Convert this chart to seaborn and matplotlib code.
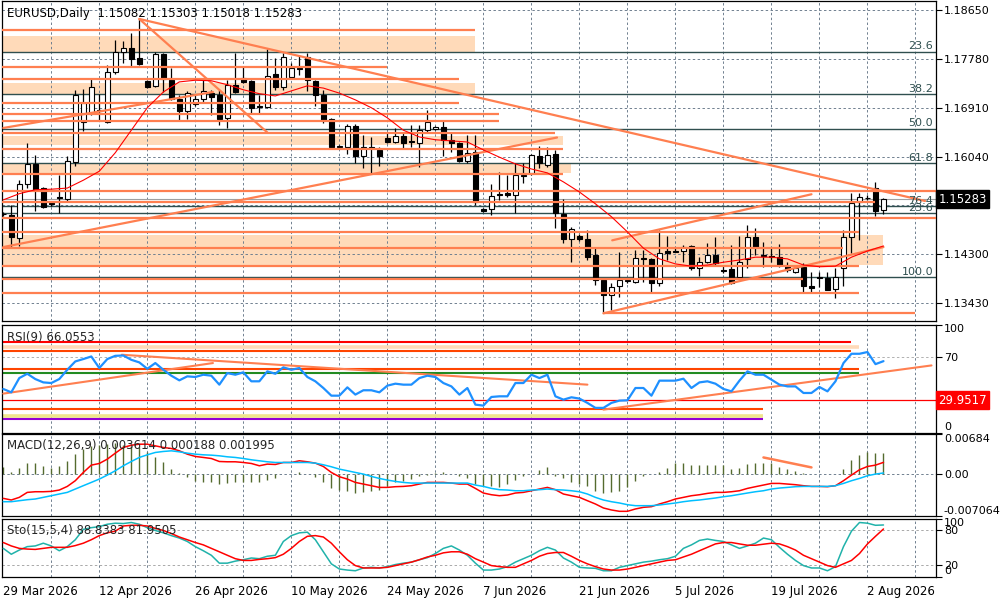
import numpy as np
import matplotlib
matplotlib.use("Agg")
import matplotlib.pyplot as plt
import matplotlib.transforms as mtrans
import seaborn as sns

sns.set_style("white")
plt.rcParams['font.family'] = ['DejaVu Sans']
plt.rcParams['font.size'] = 8

# ---------- daily candles ----------
opens = [1.1502, 1.1500, 1.1459, 1.1555, 1.1591, 1.1548, 1.1521, 1.1532, 1.1529, 1.1595,
         1.1666, 1.1682, 1.1687, 1.1666, 1.1755, 1.1790, 1.1797, 1.1780, 1.1739, 1.1730,
         1.1787, 1.1741, 1.1707, 1.1685, 1.1698, 1.1707, 1.1717, 1.1714, 1.1673, 1.1732,
         1.1744, 1.1739, 1.1694, 1.1692, 1.1751, 1.1728, 1.1746, 1.1762, 1.1781, 1.1739,
         1.1714, 1.1671, 1.1621, 1.1621, 1.1659, 1.1605, 1.1621, 1.1616, 1.1637, 1.1630,
         1.1641, 1.1632, 1.1628, 1.1651, 1.1653, 1.1657, 1.1634, 1.1628, 1.1596, 1.1612,
         1.1511, 1.1511, 1.1537, 1.1539, 1.1536, 1.1571, 1.1575, 1.1605, 1.1589, 1.1609,
         1.1502, 1.1457, 1.1463, 1.1457, 1.1429, 1.1384, 1.1358, 1.1374, 1.1383, 1.1381,
         1.1424, 1.1422, 1.1379, 1.1436, 1.1436, 1.1436, 1.1445, 1.1406, 1.1416, 1.1429,
         1.1402, 1.1404, 1.1390, 1.1422, 1.1461, 1.1429, 1.1427, 1.1425, 1.1409, 1.1399,
         1.1408, 1.1374, 1.1390, 1.1388, 1.1368, 1.1406, 1.1461, 1.1524, 1.1531, 1.1548,
         1.15082]
highs = [1.1505, 1.1518, 1.1562, 1.1628, 1.1607, 1.1550, 1.1524, 1.1571, 1.1605, 1.1723,
         1.1724, 1.1742, 1.1715, 1.1767, 1.1812, 1.1810, 1.1824, 1.1849, 1.1741, 1.1790,
         1.1788, 1.1762, 1.1714, 1.1721, 1.1714, 1.1741, 1.1723, 1.1723, 1.1741, 1.1788,
         1.1764, 1.1741, 1.1714, 1.1796, 1.1780, 1.1788, 1.1771, 1.1785, 1.1788, 1.1741,
         1.1723, 1.1673, 1.1625, 1.1662, 1.1662, 1.1642, 1.1639, 1.1621, 1.1648, 1.1655,
         1.1646, 1.1660, 1.1660, 1.1687, 1.1659, 1.1667, 1.1646, 1.1630, 1.1642, 1.1642,
         1.1513, 1.1555, 1.1577, 1.1571, 1.1593, 1.1593, 1.1609, 1.1623, 1.1621, 1.1616,
         1.1529, 1.1479, 1.1466, 1.1473, 1.1441, 1.1385, 1.1379, 1.1434, 1.1386, 1.1438,
         1.1438, 1.1423, 1.1473, 1.1463, 1.1443, 1.1447, 1.1447, 1.1425, 1.1450, 1.1461,
         1.1411, 1.1447, 1.1463, 1.1482, 1.1477, 1.1452, 1.1441, 1.1448, 1.1416, 1.1411,
         1.1415, 1.1399, 1.1399, 1.1399, 1.1406, 1.1473, 1.1539, 1.1539, 1.1535, 1.1559,
         1.15303]
lows = [1.1498, 1.1443, 1.1445, 1.1548, 1.1507, 1.1513, 1.1516, 1.1504, 1.1523, 1.1587,
        1.1650, 1.1678, 1.1669, 1.1664, 1.1751, 1.1771, 1.1765, 1.1767, 1.1726, 1.1728,
        1.1719, 1.1705, 1.1669, 1.1671, 1.1694, 1.1701, 1.1678, 1.1660, 1.1655, 1.1717,
        1.1735, 1.1682, 1.1682, 1.1691, 1.1723, 1.1723, 1.1745, 1.1749, 1.1721, 1.1694,
        1.1664, 1.1619, 1.1619, 1.1609, 1.1593, 1.1584, 1.1575, 1.1587, 1.1628, 1.1628,
        1.1619, 1.1621, 1.1586, 1.1648, 1.1651, 1.1605, 1.1612, 1.1595, 1.1593, 1.1518,
        1.1505, 1.1500, 1.1527, 1.1532, 1.1504, 1.1557, 1.1571, 1.1584, 1.1586, 1.1477,
        1.1450, 1.1416, 1.1454, 1.1420, 1.1376, 1.1326, 1.1331, 1.1354, 1.1379, 1.1379,
        1.1381, 1.1363, 1.1374, 1.1420, 1.1434, 1.1416, 1.1402, 1.1392, 1.1415, 1.1411,
        1.1397, 1.1377, 1.1388, 1.1406, 1.1429, 1.1408, 1.1416, 1.1408, 1.1399, 1.1397,
        1.1363, 1.1363, 1.1372, 1.1366, 1.1352, 1.1374, 1.1433, 1.1455, 1.1527, 1.1498,
        1.15018]
closes = [1.1501, 1.1461, 1.1555, 1.1591, 1.1545, 1.1514, 1.1520, 1.1530, 1.1596, 1.1714,
          1.1699, 1.1728, 1.1685, 1.1755, 1.1790, 1.1797, 1.1778, 1.1769, 1.1728, 1.1787,
          1.1742, 1.1707, 1.1685, 1.1717, 1.1707, 1.1721, 1.1710, 1.1671, 1.1732, 1.1719,
          1.1737, 1.1691, 1.1692, 1.1748, 1.1728, 1.1781, 1.1762, 1.1760, 1.1741, 1.1714,
          1.1669, 1.1621, 1.1623, 1.1659, 1.1605, 1.1621, 1.1619, 1.1605, 1.1630, 1.1641,
          1.1628, 1.1630, 1.1651, 1.1666, 1.1657, 1.1634, 1.1628, 1.1596, 1.1610, 1.1523,
          1.1507, 1.1534, 1.1536, 1.1536, 1.1571, 1.1570, 1.1607, 1.1593, 1.1607, 1.1504,
          1.1457, 1.1475, 1.1457, 1.1425, 1.1384, 1.1358, 1.1372, 1.1384, 1.1385, 1.1424,
          1.1422, 1.1379, 1.1432, 1.1432, 1.1435, 1.1443, 1.1406, 1.1416, 1.1429, 1.1415,
          1.1400, 1.1379, 1.1416, 1.1461, 1.1443, 1.1427, 1.1425, 1.1411, 1.1402, 1.1406,
          1.1374, 1.1370, 1.1388, 1.1367, 1.1390, 1.1461, 1.1521, 1.1532, 1.1530, 1.1507,
          1.15283]

# moving average (thin red), read every second bar
ma_bars = list(range(0, 111, 2))
ma_vals = [1.1527, 1.1538, 1.1545, 1.1546, 1.1548, 1.1562, 1.1578, 1.1611, 1.1651, 1.1691,
           1.1719, 1.1737, 1.1740, 1.1739, 1.1732, 1.1723, 1.1716, 1.1712, 1.1721, 1.1730,
           1.1726, 1.1717, 1.1705, 1.1691, 1.1673, 1.1651, 1.1639, 1.1634, 1.1632, 1.1630,
           1.1616, 1.1603, 1.1591, 1.1582, 1.1575, 1.1559, 1.1541, 1.1520, 1.1497, 1.1470,
           1.1441, 1.1422, 1.1413, 1.1409, 1.1411, 1.1416, 1.1420, 1.1425, 1.1425, 1.1422,
           1.1411, 1.1408, 1.1409, 1.1425, 1.1436, 1.1445]

# ---------- indicators ----------
rsi_vals = [40.3, 37.2, 50.4, 54.4, 49.5, 46.4, 45.8, 49.5, 58.1, 65.8,
            68.0, 70.4, 59.7, 68.0, 71.0, 71.3, 67.3, 64.9, 59.0, 64.3,
            58.1, 52.6, 48.3, 52.0, 51.4, 53.5, 52.6, 44.3, 55.0, 53.5,
            55.7, 47.4, 47.4, 56.6, 54.4, 60.3, 58.1, 59.7, 51.4, 47.4,
            41.2, 34.1, 34.1, 41.8, 35.1, 39.1, 39.1, 37.2, 43.4, 45.2,
            44.3, 44.3, 50.4, 52.6, 51.4, 45.8, 42.7, 35.1, 41.2, 25.8,
            24.9, 32.9, 33.5, 33.5, 45.8, 45.8, 53.5, 50.4, 53.5, 33.5,
            30.4, 32.6, 31.4, 27.4, 22.8, 22.8, 27.4, 29.5, 29.8, 41.2,
            41.2, 34.1, 48.0, 48.0, 48.0, 49.8, 41.2, 46.4, 47.4, 45.2,
            40.3, 38.1, 48.0, 56.6, 53.5, 53.5, 48.9, 44.3, 42.7, 42.7,
            36.6, 36.6, 42.1, 38.1, 47.4, 64.3, 72.9, 72.9, 74.5, 63.3,
            66.06]

macd_hist = [0.00113, 0.00028, 0.00096, 0.00181, 0.00181, 0.00142, 0.00096, 0.00142, 0.00215, 0.00340,
             0.00425, 0.00471, 0.00493, 0.00510, 0.00527, 0.00499, 0.00482, 0.00454, 0.00369, 0.00284,
             0.00198, 0.00085, 0.00011, -0.00057, -0.00113, -0.00130, -0.00130, -0.00170, -0.00153, -0.00130,
             -0.00130, -0.00142, -0.00142, -0.00096, -0.00074, -0.00006, 0.0, 0.00040, 0.0, -0.00045,
             -0.00142, -0.00244, -0.00266, -0.00284, -0.00323, -0.00312, -0.00284, -0.00266, -0.00198, -0.00142,
             -0.00113, -0.00085, -0.00028, -0.00011, 0.00011, 0.00028, 0.0, -0.00028, -0.00074, -0.00170,
             -0.00198, -0.00210, -0.00227, -0.00170, -0.00096, -0.00028, 0.0, 0.00074, 0.00113, -0.00028,
             -0.00074, -0.00130, -0.00170, -0.00210, -0.00284, -0.00329, -0.00312, -0.00284, -0.00227, -0.00113,
             -0.00028, 0.0, 0.00028, 0.00096, 0.00181, 0.00187, 0.00153, 0.00153, 0.00153, 0.00153,
             0.00153, 0.00085, 0.00096, 0.00170, 0.00187, 0.00187, 0.00187, 0.00113, 0.00085, 0.00057,
             0.00011, 0.0, 0.0, 0.0, 0.0, 0.00085, 0.00238, 0.00323, 0.00380, 0.00357,
             0.00361]
macd_red = [-0.00414, -0.00442, -0.00397, -0.00312, -0.00301, -0.00301, -0.00295, -0.00272, -0.00210, -0.00113,
            0.00028, 0.00153, 0.00181, 0.00255, 0.00357, 0.00454, 0.00493, 0.00510, 0.00510, 0.00482,
            0.00454, 0.00437, 0.00397, 0.00340, 0.00301, 0.00284, 0.00266, 0.00215, 0.00210, 0.00210,
            0.00198, 0.00181, 0.00142, 0.00170, 0.00164, 0.00198, 0.00198, 0.00227, 0.00210, 0.00187,
            0.00130, 0.00028, -0.00045, -0.00085, -0.00142, -0.00170, -0.00198, -0.00227, -0.00227, -0.00215,
            -0.00210, -0.00198, -0.00170, -0.00142, -0.00142, -0.00142, -0.00153, -0.00170, -0.00170, -0.00244,
            -0.00323, -0.00352, -0.00369, -0.00357, -0.00323, -0.00312, -0.00284, -0.00255, -0.00227, -0.00266,
            -0.00340, -0.00369, -0.00397, -0.00454, -0.00510, -0.00578, -0.00612, -0.00635, -0.00635, -0.00595,
            -0.00567, -0.00556, -0.00510, -0.00471, -0.00425, -0.00397, -0.00369, -0.00352, -0.00329, -0.00312,
            -0.00312, -0.00301, -0.00284, -0.00244, -0.00215, -0.00187, -0.00159, -0.00159, -0.00170, -0.00181,
            -0.00198, -0.00210, -0.00210, -0.00215, -0.00198, -0.00113, -0.00017, 0.00074, 0.00130, 0.00153,
            0.00200]
macd_blue = [-0.00471, -0.00471, -0.00454, -0.00437, -0.00425, -0.00397, -0.00369, -0.00340, -0.00312, -0.00255,
             -0.00198, -0.00142, -0.00085, -0.00017, 0.00057, 0.00142, 0.00215, 0.00284, 0.00329, 0.00369,
             0.00386, 0.00397, 0.00380, 0.00357, 0.00340, 0.00329, 0.00323, 0.00312, 0.00295, 0.00284,
             0.00266, 0.00244, 0.00227, 0.00210, 0.00198, 0.00198, 0.00198, 0.00198, 0.00198, 0.00187,
             0.00159, 0.00125, 0.00085, 0.00057, 0.00028, 0.0, -0.00040, -0.00074, -0.00102, -0.00125,
             -0.00142, -0.00153, -0.00153, -0.00153, -0.00153, -0.00153, -0.00153, -0.00153, -0.00153, -0.00187,
             -0.00210, -0.00244, -0.00266, -0.00272, -0.00284, -0.00284, -0.00272, -0.00266, -0.00255, -0.00266,
             -0.00272, -0.00284, -0.00301, -0.00340, -0.00397, -0.00442, -0.00471, -0.00493, -0.00522, -0.00539,
             -0.00539, -0.00539, -0.00527, -0.00510, -0.00493, -0.00471, -0.00454, -0.00442, -0.00425, -0.00408,
             -0.00386, -0.00369, -0.00346, -0.00323, -0.00301, -0.00284, -0.00255, -0.00238, -0.00227, -0.00215,
             -0.00210, -0.00210, -0.00210, -0.00210, -0.00198, -0.00159, -0.00113, -0.00074, -0.00028, 0.0,
             0.00019]

sto_k = [48.5, 38.4, 45.6, 51.5, 52.7, 57.4, 52.7, 44.4, 51.5, 63.4,
         81.2, 84.2, 86.0, 90.1, 91.9, 91.3, 93.1, 90.1, 84.2, 79.4,
         75.3, 70.5, 66.3, 60.4, 51.5, 44.4, 36.6, 23.0, 23.0, 26.5,
         28.9, 31.9, 30.7, 34.9, 36.6, 60.4, 70.5, 75.3, 76.4, 63.4,
         42.6, 21.8, 12.9, 11.1, 9.9, 14.7, 15.8, 14.7, 17.0, 20.6,
         23.0, 24.8, 28.9, 32.5, 39.6, 48.5, 52.7, 45.6, 36.6, 23.0,
         11.1, 11.1, 12.9, 17.0, 24.8, 30.7, 36.6, 44.4, 50.3, 45.6,
         31.9, 24.8, 15.8, 14.7, 14.1, 9.9, 9.9, 15.8, 18.8, 21.8,
         24.8, 26.5, 28.9, 30.7, 34.9, 48.5, 54.5, 62.2, 64.6, 62.2,
         60.4, 54.5, 48.5, 52.7, 57.4, 66.3, 63.4, 50.3, 38.4, 27.7,
         18.8, 14.7, 14.7, 9.9, 17.0, 51.5, 78.2, 93.1, 91.9, 88.3,
         88.84]
sto_d = [58.6, 52.7, 48.5, 47.3, 46.7, 48.5, 50.3, 50.3, 50.3, 53.3,
         57.4, 63.4, 70.5, 75.3, 78.2, 87.1, 88.3, 88.3, 87.1, 83.0,
         79.4, 74.1, 68.1, 63.4, 58.6, 54.5, 48.5, 42.6, 36.6, 30.7,
         27.7, 27.7, 29.5, 30.7, 32.5, 38.4, 48.5, 60.4, 69.3, 70.5,
         68.1, 57.4, 42.6, 28.9, 18.8, 14.7, 14.7, 14.7, 15.8, 18.8,
         21.8, 24.8, 28.9, 33.7, 36.6, 40.8, 42.6, 42.6, 38.4, 30.7,
         24.8, 18.8, 17.0, 15.8, 15.8, 21.8, 27.7, 34.9, 39.6, 41.4,
         41.4, 34.9, 27.7, 21.8, 17.0, 12.9, 11.1, 11.1, 12.9, 15.8,
         18.8, 21.8, 24.8, 27.7, 28.9, 33.7, 38.4, 44.4, 50.3, 56.2,
         58.6, 58.6, 56.2, 53.9, 53.9, 55.7, 57.4, 56.2, 51.5, 45.6,
         36.6, 30.7, 24.8, 18.8, 15.8, 21.8, 27.7, 39.6, 56.2, 69.3,
         81.95]

# ---------- axis labels ----------
date_bars = [0, 12, 24, 36, 48, 60, 72, 84, 96, 108]
date_labels = ["29 Mar 2026", "12 Apr 2026", "26 Apr 2026", "10 May 2026", "24 May 2026",
               "7 Jun 2026", "21 Jun 2026", "5 Jul 2026", "19 Jul 2026", "2 Aug 2026"]
price_ticks = [1.18650, 1.17780, 1.16910, 1.16040, 1.15170, 1.14300, 1.13430]
last_price = 1.15283

# ---------- drawn objects ----------
# horizontal levels: (price, from bar, to bar)
levels = [(1.1829, -1, 59), (1.1764, -1, 48), (1.1742, -1, 57), (1.1700, -1, 57),
          (1.1679, -1, 62), (1.1668, -1, 62), (1.1646, -1, 69), (1.1618, -1, 70),
          (1.1573, -1, 70), (1.1543, -1, 117), (1.1523, -1, 109), (1.1494, -1, 117),
          (1.1469, -1, 107), (1.1442, -1, 105), (1.1410, -1, 107), (1.1387, -1, 100),
          (1.1362, -1, 107), (1.1325, 75, 114)]
# zones: (low, high, to bar)
zones = [(1.1791, 1.1819, 59), (1.1715, 1.1735, 59), (1.1624, 1.1640, 70),
         (1.1574, 1.1592, 71), (1.1411, 1.1465, 110)]
fib_prices = [1.1791, 1.1715, 1.1654, 1.1592, 1.1516, 1.1504, 1.1390]
fib_labels = ["23.6", "38.2", "50.0", "61.8", "76.4", "23.6", "100.0"]
main_trends = [(17, 1.1849, 115.2, 1.1525), (17, 1.1849, 33, 1.1647),
               (0, 1.1443, 69.2, 1.1638), (0, 1.1655, 26.2, 1.1719),
               (76.1, 1.1455, 101, 1.1537), (75, 1.1325, 110, 1.1443)]
# RSI window objects: (value, to bar, colour, width)
rsi_levels = [(84.2, 106, '#FF0000', 1.5), (78.8, 107, '#FFDAB9', 2.6), (75.9, 106, '#FF4500', 1.5),
              (58.8, 107, '#FF4500', 1.5), (55.1, 107, '#228B22', 1.5), (21.9, 95, '#FF4500', 1.5),
              (15.1, 95, '#F0E68C', 2.6), (12.6, 95, '#9400D3', 1.5)]
rsi_trends = [(14.8, 72.0, 73, 44.3), (0, 36.0, 26.2, 64.3), (75, 21.2, 116, 62.1)]
macd_trend = (95, 0.00284, 101, 0.00114)

CORAL = '#FF7F50'
GRID = '#708090'

n = len(closes)
bars = np.arange(n)
o, h, l, c = map(np.array, (opens, highs, lows, closes))

fig = plt.figure(figsize=(10, 6), dpi=100)
fig.patch.set_facecolor('white')


def panel(top, bottom):
    return fig.add_axes([2 / 1000, 1 - bottom / 600, 933.5 / 1000, (bottom - top) / 600])


ax = panel(1, 321)
ax_rsi = panel(324.5, 432.5)
ax_macd = panel(434, 515.5)
ax_sto = panel(518.5, 576.5)
xlim = (-0.16, 116.5)
grid_bars = list(range(6, 117, 6))

for a in (ax, ax_rsi, ax_macd, ax_sto):
    a.set_xlim(*xlim)
    a.set_facecolor('white')
    for s in a.spines.values():
        s.set_color('black')
        s.set_linewidth(0.9)
    a.vlines(grid_bars, 0, 1, transform=a.get_xaxis_transform(), colors=GRID,
             linestyles=(0, (2.5, 2.5)), lw=0.7, zorder=1)
    a.yaxis.tick_right()
    a.tick_params(axis='y', direction='out', length=4, width=0.8, pad=2, labelsize=8, colors='black')
    if a is not ax_sto:
        a.set_xticks([])

# ---------- main price window ----------
ax.set_ylim(1.13114, 1.18810)
ax.hlines(price_ticks, *xlim, colors=GRID, linestyles=(0, (2.5, 2.5)), lw=0.7, zorder=1)
for lo, hi, x1 in zones:
    ax.fill_between([-1, x1], lo, hi, color='#FFDAB9', lw=0, zorder=0.5)
ax.hlines(fib_prices, *xlim, colors='#2F4F4F', lw=1, zorder=2)
for p, lab in zip(fib_prices, fib_labels):
    ax.text(116.2, p + 0.00005, lab, ha='right', va='bottom', color='#2F4F4F', fontsize=8, zorder=6)
ax.axhline(last_price, color='#A0A0A0', lw=0.8, zorder=2)

up = c >= o
body_lo = np.minimum(o, c)
body_h = np.maximum(np.abs(c - o), 0.00003)
ax.vlines(bars, l, h, color='black', lw=0.9, zorder=3)
ax.bar(bars[up], body_h[up], bottom=body_lo[up], width=0.62, color='white',
       edgecolor='black', lw=0.8, zorder=4)
ax.bar(bars[~up], body_h[~up], bottom=body_lo[~up], width=0.62, color='black',
       edgecolor='black', lw=0.8, zorder=4)

for p, x0, x1 in levels:
    ax.hlines(p, x0, x1, colors=CORAL, lw=1.6, zorder=5)
for x0, y0, x1, y1 in main_trends:
    ax.plot([x0, x1], [y0, y1], color=CORAL, lw=1.6, zorder=5)
sns.lineplot(x=ma_bars, y=ma_vals, ax=ax, color='#FF0000', linewidth=0.8, zorder=6)

ax.set_yticks(price_ticks)
ax.set_yticklabels([f"{p:.5f}" for p in price_ticks])
ax.set_ylim(1.13114, 1.18810)
ax.set_xlim(*xlim)
ax.set_xlabel('')
ax.set_ylabel('')
ax.text(0.005, 0.982, "EURUSD,Daily  1.15082 1.15303 1.15018 1.15283", transform=ax.transAxes,
        ha='left', va='top', fontsize=8.5, color='black', zorder=7)
btrans = mtrans.blended_transform_factory(ax.transAxes, ax.transData)
ax.text(1.003, last_price, f"{last_price:.5f}", transform=btrans, ha='left', va='center',
        color='white', fontsize=8.5, zorder=8, clip_on=False,
        bbox=dict(facecolor='black', edgecolor='black', pad=1.6))

# ---------- RSI ----------
ax_rsi.hlines([70, 30], *xlim, colors='#B0B0B0', linestyles=(0, (2.5, 2.5)), lw=0.7, zorder=1)
for v, x1, col, w in rsi_levels:
    ax_rsi.hlines(v, -1, x1, colors=col, lw=w, zorder=2)
ax_rsi.axhline(29.95, color='#FF0000', lw=0.9, zorder=2)
for x0, y0, x1, y1 in rsi_trends:
    ax_rsi.plot([x0, x1], [y0, y1], color=CORAL, lw=1.5, zorder=3)
sns.lineplot(x=bars, y=rsi_vals, ax=ax_rsi, color='#1E90FF', linewidth=1.6, zorder=4)
ax_rsi.set_ylim(0, 100)
ax_rsi.set_xlim(*xlim)
ax_rsi.set_xlabel('')
ax_rsi.set_ylabel('')
ax_rsi.set_yticks([0, 70, 100])
ax_rsi.set_yticklabels(['0', '70', '100'])
tl = ax_rsi.get_yticklabels()
tl[0].set_va('bottom')
tl[2].set_va('top')
ax_rsi.text(0.005, 0.88, "RSI(9) 66.0553", transform=ax_rsi.transAxes, ha='left', va='center',
            fontsize=8.5, zorder=7)
rtrans = mtrans.blended_transform_factory(ax_rsi.transAxes, ax_rsi.transData)
ax_rsi.text(1.003, 29.95, "29.9517", transform=rtrans, ha='left', va='center', color='white',
            fontsize=8.5, zorder=8, clip_on=False,
            bbox=dict(facecolor='#FF0000', edgecolor='#FF0000', pad=1.6))

# ---------- MACD ----------
ax_macd.axhline(0, color=GRID, ls=(0, (2.5, 2.5)), lw=0.7, zorder=1)
ax_macd.vlines(bars, 0, macd_hist, colors='#556B2F', lw=1.0, zorder=2)
sns.lineplot(x=bars, y=macd_red, ax=ax_macd, color='#FF0000', linewidth=1.1, zorder=3)
sns.lineplot(x=bars, y=macd_blue, ax=ax_macd, color='#00BFFF', linewidth=1.1, zorder=3)
ax_macd.plot([macd_trend[0], macd_trend[2]], [macd_trend[1], macd_trend[3]], color=CORAL, lw=1.8, zorder=4)
ax_macd.set_ylim(-0.007064, 0.00684)
ax_macd.set_xlim(*xlim)
ax_macd.set_xlabel('')
ax_macd.set_ylabel('')
ax_macd.set_yticks([-0.007064, 0, 0.00684])
ax_macd.set_yticklabels(['-0.007064', '0.00', '0.00684'])
tl = ax_macd.get_yticklabels()
tl[0].set_va('bottom')
tl[2].set_va('top')
ax_macd.text(0.005, 0.865, "MACD(12,26,9) 0.003614 0.000188 0.001995", transform=ax_macd.transAxes,
             ha='left', va='center', fontsize=8.5, zorder=7)

# ---------- Stochastic ----------
ax_sto.hlines([80, 20], *xlim, colors='#A9A9A9', linestyles=(0, (2.5, 2.5)), lw=0.7, zorder=1)
sns.lineplot(x=bars, y=sto_k, ax=ax_sto, color='#20B2AA', linewidth=1.1, zorder=3)
sns.lineplot(x=bars, y=sto_d, ax=ax_sto, color='#FF0000', linewidth=1.1, zorder=3)
ax_sto.set_ylim(0, 100)
ax_sto.set_xlim(*xlim)
ax_sto.set_xlabel('')
ax_sto.set_ylabel('')
ax_sto.set_yticks([0, 20, 80, 100])
ax_sto.set_yticklabels(['0', '20', '80', '100'])
tl = ax_sto.get_yticklabels()
tl[0].set_va('bottom')
tl[3].set_va('top')
ax_sto.text(0.005, 0.80, "Sto(15,5,4) 88.8383 81.9505", transform=ax_sto.transAxes,
            ha='left', va='center', fontsize=8.5, zorder=7)
ax_sto.set_xticks(date_bars)
ax_sto.set_xticklabels(date_labels, ha='left')
ax_sto.set_xticks(grid_bars, minor=True)
ax_sto.tick_params(axis='x', which='both', direction='out', length=3, width=0.8, pad=3,
                   labelsize=8.5, colors='black')

fig.savefig('out.png', dpi=100, facecolor='white')
